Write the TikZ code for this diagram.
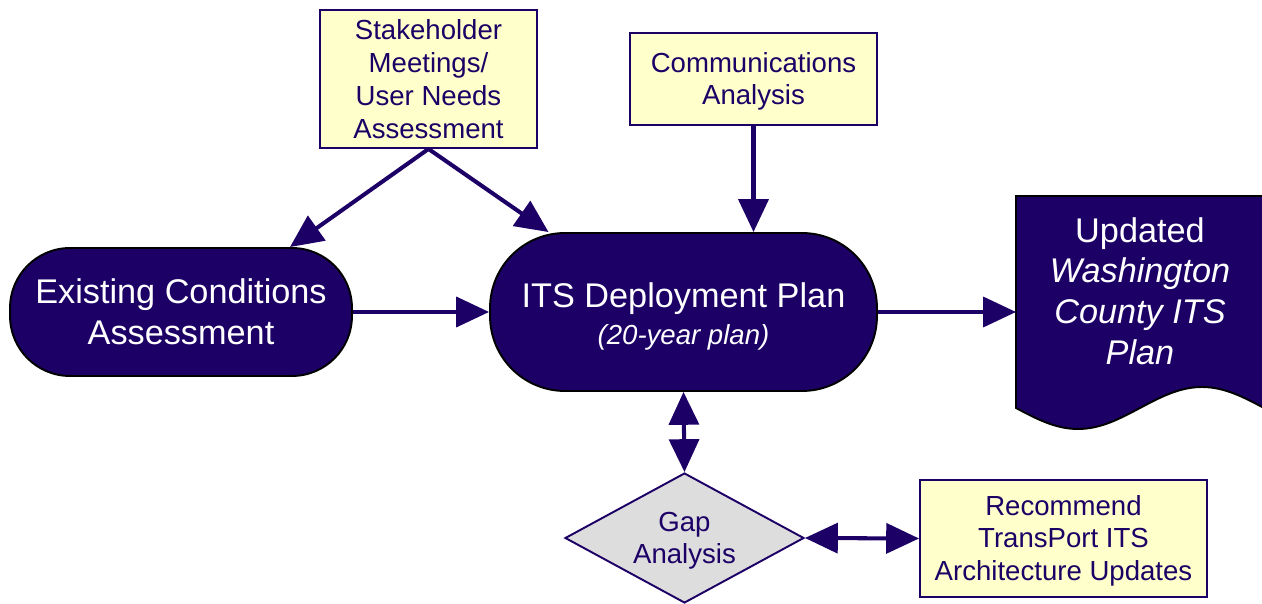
\documentclass[tikz,border=0pt]{standalone}
\usepackage{fontspec}
\setmainfont{Liberation Sans}
\usetikzlibrary{arrows.meta}
\usetikzlibrary{shapes.geometric}

\definecolor{planblue}{RGB}{28,0,102}
\definecolor{notefill}{RGB}{255,255,204}
\definecolor{gapgray}{RGB}{221,221,221}

\begin{document}
\begin{tikzpicture}[x=0.02cm, y=-0.02cm,
    every node/.style={inner sep=1pt, align=center},
    note/.style={draw=planblue, line width=1.1pt, fill=notefill, text=planblue,
      font=\fontsize{15.7}{18.7}\selectfont},
    stage/.style={draw=black, line width=1.1pt, fill=planblue, text=white,
      font=\fontsize{19.5}{23.2}\selectfont},
    flow/.style={draw=planblue, line width=2.3pt, -{Triangle[length=18.7pt,width=17pt]}},
    twoway/.style={flow, {Triangle[length=18.7pt,width=17pt]}-{Triangle[length=18.7pt,width=17pt]}}]
		\useasboundingbox (0,0) rectangle (1262,604);

		% Inputs on top
		\node[note, minimum width=4.34cm, minimum height=2.76cm] (stake) at (428.5,79)
			{Stakeholder\\Meetings/\\User Needs\\Assessment};
		\node[note, minimum width=4.94cm, minimum height=1.84cm] (comm) at (753.5,79)
			{\rule{0pt}{14pt}Communications\\Analysis};

		% Main stages
		\node[stage, minimum width=6.84cm, minimum height=2.56cm, rounded corners=1.2cm] (exist) at (181,312)
			{Existing Conditions\\Assessment};
		\node[stage, minimum width=7.74cm, minimum height=3.16cm, rounded corners=1.5cm] (its) at (683.5,312)
			{\rule{0pt}{19pt}ITS Deployment Plan\\[-2pt]{\fontsize{15.7}{18.7}\selectfont\itshape (20-year plan)}};

		% Output document with wavy bottom
		\coordinate (docnw) at (1016,196);
		\draw[fill=planblue, draw=black, line width=1.1pt] (docnw) -- (1264,196) -- (1264,408)
			sin (1202,387) cos (1140,408) sin (1078,429) cos (1016,408) -- cycle;
		\node[text=white, font=\fontsize{19.5}{23.2}\selectfont] (doc) at (1140,291)
			{Updated\\\textit{Washington}\\\textit{County ITS}\\\textit{Plan}};

		% Gap analysis and recommendation
		\node[diamond, draw=planblue, line width=1.1pt, fill=gapgray, text=planblue, inner sep=0pt,
			shape aspect=1.84, minimum width=4.78cm, minimum height=2.6cm,
			font=\fontsize{15.7}{18.7}\selectfont] (gap) at (684.5,538) {\rule{0pt}{14pt}Gap\\Analysis};
		\node[note, minimum width=5.74cm, minimum height=2.34cm] (rec) at (1063.5,538.5)
			{\rule{0pt}{14pt}Recommend\\TransPort ITS\\Architecture Updates};

		% Connectors
		\draw[flow] (stake.south) -- ([xshift=2.18cm]exist.north);
		\draw[flow] (stake.south) -- ([xshift=-2.7cm]its.north);
		\draw[flow] (comm.south) -- (comm.south |- its.north);
		\draw[flow] (exist.east) -- (its.west);
		\draw[flow] (its.east) -- (its.east -| docnw);
		\draw[twoway] (its.south) -- (gap.north);
		\draw[twoway] (gap.east) -- (rec.west);
	\end{tikzpicture}
\end{document}
